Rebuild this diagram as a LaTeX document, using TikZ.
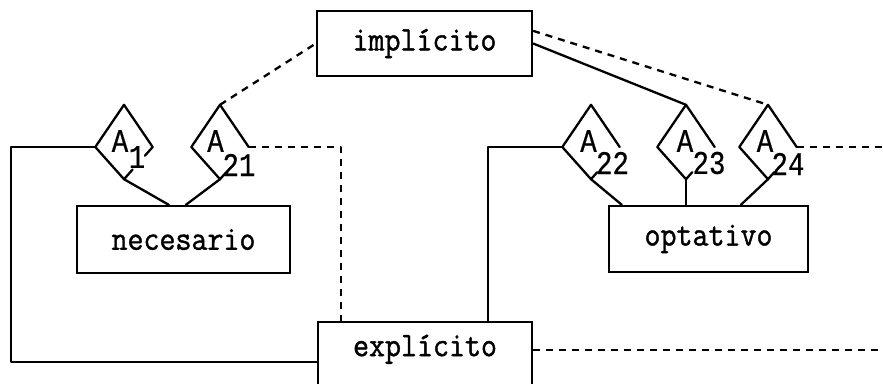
\documentclass[tikz,border=0pt]{standalone}
\usepackage{fontspec}
\newfontfamily\boxfont{Latin Modern Mono}[FakeStretch=0.9, FakeBold=1.2]
\newfontfamily\lblfont{Liberation Mono}[FakeStretch=0.83, FakeBold=0.6]
\usetikzlibrary{shapes.geometric,calc}

\tikzset{
  conn/.style={line width=2.3pt, line cap=round, line join=round},
  dconn/.style={conn, dash pattern=on 7pt off 6pt, line cap=butt},
  box/.style={draw, line width=2.3pt, inner sep=0pt, font=\boxfont\fontsize{34.5}{38}\selectfont},
  attr/.style={shape=diamond, draw=none, minimum width=57pt, minimum height=74pt, inner sep=0pt},
  lbl/.style={inner sep=0pt, font=\lblfont\fontsize{33}{36}\selectfont},
}
% side corners of a relationship diamond (drawn a little below its centre line)
\newcommand{\attrcorners}[1]{%
  \coordinate (#1e) at ([yshift=-5pt]#1.east);
  \coordinate (#1w) at ([yshift=-5pt]#1.west);}
% outline of a relationship diamond, lower-right side left open for the subscript
\newcommand{\attrline}[1]{%
  \draw[conn] (#1e) -- (#1.north) -- (#1w) -- (#1.south) -- ($(#1.south)!0.22!(#1e)$);}

\begin{document}
\begin{tikzpicture}[x=1pt,y=-1pt]
\useasboundingbox (0,0) rectangle (883,383);
\clip (0,0) rectangle (883,383);

% entity boxes
\node[box, minimum width=215pt, minimum height=65pt] (imp) at (424.5,43.5) {implícito};
\node[box, minimum width=213pt, minimum height=67pt] (nec) at (183.5,239.5) {necesario};
\node[box, minimum width=199pt, minimum height=66pt] (opt) at (708.5,239) {optativo};
\node[box, anchor=north, minimum width=214pt, text height=28pt, text depth=40pt,
      inner ysep=6pt] (exp) at (425,321) {explícito};

% relationship diamonds
\node[attr] (A1)  at (124,142) {};
\node[attr] (A21) at (220,142) {};
\node[attr] (A22) at (591,142) {};
\node[attr] (A23) at (686,142) {};
\node[attr] (A24) at (768,142) {};
\attrcorners{A1}
\attrcorners{A21}
\attrcorners{A22}
\attrcorners{A23}
\attrcorners{A24}

\draw[conn] ($(A1e)!0.27!(A1.south)$) -- (A1e) -- (A1.north) -- (A1w)
  -- (A1.south) -- ($(A1.south)!0.3!(A1e)$);
\attrline{A21}
\attrline{A22}
\attrline{A23}
\attrline{A24}

% diamond labels
\node[lbl] (A1a)  at (120,141)   {A};
\node[lbl] (A21a) at (215.5,141) {A};
\node[lbl] (A22a) at (588.5,141) {A};
\node[lbl] (A23a) at (685,141)   {A};
\node[lbl] (A24a) at (765,141)   {A};
\node[lbl] (A1s)  at (137,157)   {1};
\node[lbl] (A21s) at (239,165)   {21};
\node[lbl] (A22s) at (612.5,163) {22};
\node[lbl] (A23s) at (709,163)   {23};
\node[lbl] (A24s) at (788,164)   {24};

% free ends and corners
\coordinate (lcorner) at (11,362);
\coordinate (rt) at (890,0);

% solid connectors
\draw[conn] (A1w) -| (lcorner) -- (lcorner -| exp.west);
\draw[conn] (A1.south) -- ([xshift=93pt]nec.north west);
\draw[conn] (A21.south) -- ([xshift=110pt]nec.north west);
\draw[conn] (imp.east) -- (A23.north);
\draw[conn] (A22w) -| ([xshift=171pt]exp.north west);
\draw[conn] (A22.south) -- ([xshift=14pt]opt.north west);
\draw[conn] (A23.south) -- (A23.south |- opt.north);
\draw[conn] (A24.south) -- ([xshift=133pt]opt.north west);

% dashed connectors
\draw[dconn] (A21.north) -- (imp.west);
\draw[dconn] (A21e) -| ([xshift=24pt]exp.north west);
\draw[dconn] ([yshift=-21pt]imp.north east) -- (A24.north);
\draw[dconn] (A24e) -- (A24e -| rt);
\draw[dconn] ([yshift=-29pt]exp.north east) -- ([yshift=-29pt]exp.north east -| rt);
\end{tikzpicture}
\end{document}
